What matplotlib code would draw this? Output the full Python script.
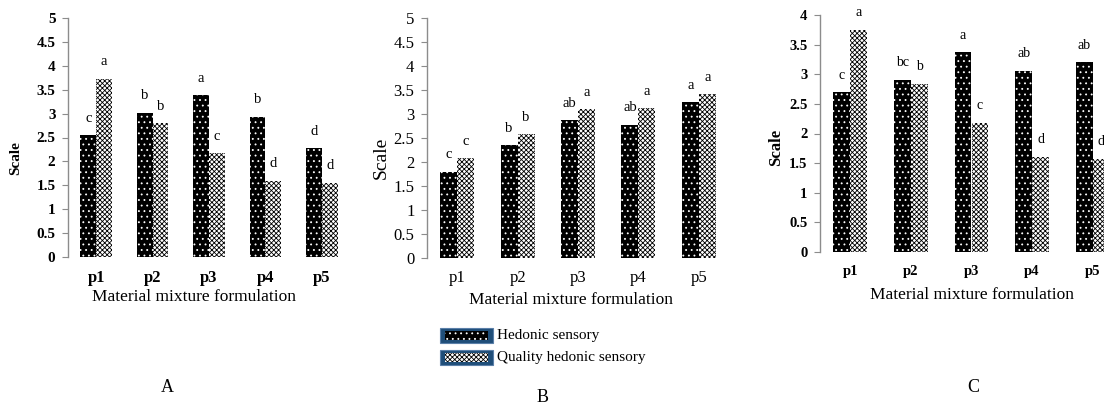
import numpy as np
import matplotlib
matplotlib.use("Agg")
import matplotlib.pyplot as plt
from matplotlib.patches import Rectangle

plt.rcParams['font.family'] = ['Liberation Serif', 'DejaVu Serif']
plt.rcParams['hatch.linewidth'] = 0.6

categories = ['p1', 'p2', 'p3', 'p4', 'p5']
series_names = ['Hedonic sensory', 'Quality hedonic sensory']

a_hedonic = [2.55, 3.02, 3.38, 2.93, 2.28]
a_quality = [3.73, 2.80, 2.17, 1.60, 1.55]
a_hed_letters = ['c', 'b', 'a', 'b', 'd']
a_qual_letters = ['a', 'b', 'c', 'd', 'd']

b_hedonic = [1.80, 2.35, 2.87, 2.78, 3.24]
b_quality = [2.08, 2.58, 3.10, 3.12, 3.41]
b_hed_letters = ['c', 'b', 'ab', 'ab', 'a']
b_qual_letters = ['c', 'b', 'a', 'a', 'a']

c_hedonic = [2.70, 2.91, 3.37, 3.06, 3.20]
c_quality = [3.75, 2.84, 2.18, 1.61, 1.57]
c_hed_letters = ['c', 'bc', 'a', 'ab', 'ab']
c_qual_letters = ['a', 'b', 'c', 'd', 'd']

a_yticks = [0, 0.5, 1, 1.5, 2, 2.5, 3, 3.5, 4, 4.5, 5]
b_yticks = [0, 0.5, 1, 1.5, 2, 2.5, 3, 3.5, 4, 4.5, 5]
c_yticks = [0, 0.5, 1, 1.5, 2, 2.5, 3, 3.5, 4]

W, H = 1104, 405
fig = plt.figure(figsize=(W / 100, H / 100), dpi=100)

Q_FACE = '#ffffff'
Q_HATCH = 'xxxxxxx'


def px_axes(x0, x1, ybot, ytop):
    return fig.add_axes([x0 / W, 1 - ybot / H, (x1 - x0) / W, (ybot - ytop) / H])


def tick_fmt(v):
    return ('%g' % v)


def draw_bars(ax, x, vals, width, kind):
    if kind == 'hed':
        ax.bar(x, vals, width, color='black', linewidth=0)
        ax.bar(x, vals, width, facecolor='none', edgecolor='white', hatch='...', linewidth=0)
    else:
        ax.bar(x, vals, width, color=Q_FACE, linewidth=0)
        ax.bar(x, vals, width, facecolor='none', edgecolor='black', hatch=Q_HATCH, linewidth=0)


def panel(rect, hed, qual, hl, ql, yticks, ymax, bold, tick_fs, cat_fs, lab_fs, lab_off):
    ax = px_axes(*rect)
    x = np.arange(len(categories))
    w = 0.28
    draw_bars(ax, x - w / 2, hed, w, 'hed')
    draw_bars(ax, x + w / 2, qual, w, 'qual')
    ax.set_xlim(-0.5, len(categories) - 0.5)
    ax.set_ylim(0, ymax)
    for s in ['top', 'right', 'bottom']:
        ax.spines[s].set_visible(False)
    ax.spines['left'].set_color('#8c8c8c')
    ax.spines['left'].set_linewidth(1.0)
    ax.set_yticks(yticks)
    ax.set_yticklabels([tick_fmt(v) for v in yticks],
                       fontsize=tick_fs, fontweight='bold' if bold else 'normal')
    ax.tick_params(axis='y', direction='out', length=4, color='#8c8c8c', pad=5)
    ax.set_xticks(x)
    ax.set_xticklabels(categories, fontsize=cat_fs, fontweight='bold' if bold else 'normal')
    ax.tick_params(axis='x', length=0, pad=9)
    for xi, v, t in zip(x - w / 2, hed, hl):
        ax.annotate(t, (xi, v), xytext=(0, lab_off), textcoords='offset pixels',
                    ha='center', va='center', fontsize=lab_fs)
    for xi, v, t in zip(x + w / 2, qual, ql):
        ax.annotate(t, (xi, v), xytext=(0, lab_off), textcoords='offset pixels',
                    ha='center', va='center', fontsize=lab_fs)
    return ax


axA = panel((68, 350, 257, 18), a_hedonic, a_quality, a_hed_letters, a_qual_letters,
            a_yticks, 5, True, 11, 12, 10.5, 17)
axB = panel((427, 729, 258, 18), b_hedonic, b_quality, b_hed_letters, b_qual_letters,
            b_yticks, 5, False, 12, 12, 10.5, 17)
axC = panel((820, 1123, 252, 15), c_hedonic, c_quality, c_hed_letters, c_qual_letters,
            c_yticks, 4, True, 10.5, 10.5, 10, 17)


def ftext(x, y, s, **kw):
    fig.text(x / W, 1 - y / H, s, **kw)

ftext(194, 297, 'Material mixture formulation', ha='center', va='center', fontsize=12.5)
ftext(571, 300, 'Material mixture formulation', ha='center', va='center', fontsize=12.5)
ftext(972, 295, 'Material mixture formulation', ha='center', va='center', fontsize=12.5)
ftext(16, 158, 'Scale', ha='center', va='center', rotation=90, fontsize=11, fontweight='bold')
ftext(381, 158, 'Scale', ha='center', va='center', rotation=90, fontsize=14)
ftext(776, 147, 'Scale', ha='center', va='center', rotation=90, fontsize=12, fontweight='bold')


def frect(x0, y0, x1, y1, **kw):
    r = Rectangle((x0 / W, 1 - y1 / H), (x1 - x0) / W, (y1 - y0) / H,
                  transform=fig.transFigure, **kw)
    fig.patches.append(r)

frect(440, 328, 493, 343, facecolor='#1f4e79', edgecolor='#5a7fa8', linewidth=0.8)
frect(445, 331, 488, 340, facecolor='black', linewidth=0)
frect(445, 331, 488, 340, facecolor='none', edgecolor='white', hatch='...', linewidth=0)
frect(440, 350, 493, 365, facecolor='#1f4e79', edgecolor='#5a7fa8', linewidth=0.8)
frect(445, 353, 488, 362, facecolor=Q_FACE, linewidth=0)
frect(445, 353, 488, 362, facecolor='none', edgecolor='black', hatch=Q_HATCH, linewidth=0)
ftext(497, 335, series_names[0], ha='left', va='center', fontsize=11)
ftext(497, 357, series_names[1], ha='left', va='center', fontsize=11)

ftext(167, 388, 'A', ha='center', va='center', fontsize=13)
ftext(543, 397, 'B', ha='center', va='center', fontsize=13)
ftext(973, 388, 'C', ha='center', va='center', fontsize=13)

fig.savefig('out.png', dpi=100)
